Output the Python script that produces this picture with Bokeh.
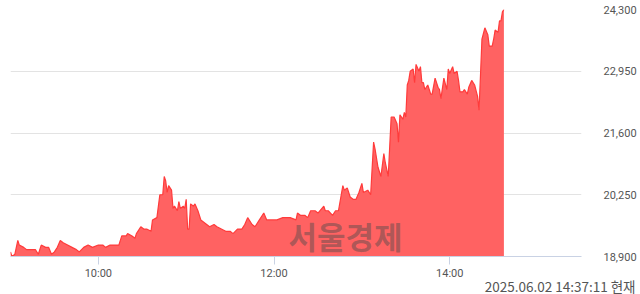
import pandas as pd
from bokeh.plotting import figure
from bokeh.models import FixedTicker, NumeralTickFormatter, DatetimeTickFormatter, Label, ColumnDataSource, Range1d, Title
from bokeh.embed import file_html
from bokeh.resources import INLINE

DATE = "2025-06-02"
times = ["09:00","09:01","09:03","09:05","09:06","09:09","09:11","09:15","09:17","09:19",
         "09:21","09:24","09:26","09:28","09:30","09:32","09:34","09:36","09:39","09:42",
         "09:45","09:47","09:50","09:53","09:56","10:00","10:03","10:05","10:08","10:11",
         "10:14","10:16","10:19","10:20","10:23","10:25","10:26","10:29","10:31","10:33",
         "10:36","10:37","10:40","10:42","10:44","10:45","10:46","10:47","10:48","10:50",
         "10:51","10:52","10:54","10:55","10:56","10:58","10:59","11:00","11:01","11:02",
         "11:03","11:05","11:06","11:08","11:10","11:12","11:14","11:16","11:19","11:21",
         "11:24","11:27","11:30","11:32","11:35","11:38","11:40","11:42","11:45","11:47",
         "11:50","11:53","11:55","11:58","12:02","12:06","12:11","12:15","12:16","12:18",
         "12:21","12:23","12:25","12:28","12:30","12:34","12:35","12:37","12:40","12:42",
         "12:44","12:47","12:48","12:50","12:52","12:54","12:56","12:58","13:00","13:01",
         "13:04","13:06","13:08","13:09","13:11","13:13","13:15","13:16","13:18","13:20",
         "13:22","13:24","13:25","13:26","13:28","13:29","13:30","13:31","13:32","13:33",
         "13:35","13:36","13:37","13:39","13:40","13:41","13:42","13:43","13:45","13:46",
         "13:47","13:48","13:50","13:52","13:53","13:54","13:56","13:58","13:59","14:00",
         "14:02","14:03","14:05","14:06","14:07","14:09","14:10","14:12","14:13","14:15",
         "14:17","14:19","14:20","14:21","14:22","14:24","14:26","14:27","14:29","14:30",
         "14:31","14:33","14:34","14:35","14:36","14:37"]
prices = [19000,18900,18950,19250,19150,19100,19050,19050,19050,18950,
          19150,19100,19100,18950,19000,19100,19250,19200,19150,19100,
          19050,19000,19100,19150,19100,19150,19150,19100,19150,19150,
          19150,19350,19350,19400,19350,19300,19400,19550,19500,19500,
          19450,19700,19750,20250,20250,20650,20550,20300,20450,20350,
          19950,20000,19900,20100,19950,20000,19950,20150,19500,19500,
          20050,20000,20050,19900,19700,19650,19600,19550,19600,19550,
          19500,19450,19450,19400,19500,19500,19600,19750,19600,19550,
          19700,19850,19700,19700,19700,19750,19750,19700,19850,19800,
          19800,19750,19900,19900,19850,20000,19900,19900,19800,19900,
          19900,20450,20350,20400,20200,20150,20150,20300,20500,20300,
          20350,20250,21400,21250,20850,20650,21150,20950,20650,21950,
          21950,21800,21400,22000,21900,22050,21950,22650,22750,22950,
          23000,22700,23100,22950,23050,22700,22700,22550,22650,22550,
          22450,22450,22800,22600,22550,22350,22800,22550,23000,22900,
          23050,22900,22950,22750,22500,22500,22550,22450,22600,22750,
          22650,22400,22100,22850,23650,23900,23750,23500,23500,23650,
          23850,23800,24050,24050,24250,24300]
y_ticks = [18900, 20250, 21600, 22950, 24300]
x_tick_times = ["10:00", "12:00", "14:00"]
x_start, x_end = "09:00", "15:30"
base_price = 18900
stamp = "2025.06.02 14:37:11 현재"
watermark = "서울경제"

def ts(t):
    return pd.Timestamp(f"{DATE} {t}")

df = pd.DataFrame({"t": [ts(t) for t in times], "p": prices})
df["base"] = base_price
src = ColumnDataSource(df)

p = figure(width=640, height=294, x_axis_type="datetime", y_axis_location="right",
           x_range=Range1d(ts(x_start), ts(x_end)), y_range=Range1d(y_ticks[0], y_ticks[-1]),
           output_backend="svg", toolbar_location=None,
           min_border_left=10, min_border_top=9, min_border_right=59, min_border_bottom=38)
p.outline_line_color = None
p.background_fill_color = "white"

p.varea(x="t", y1="base", y2="p", source=src, fill_color="#ff6262", fill_alpha=1.0)
p.line(x="t", y="p", source=src, line_color="#ff3b3b", line_width=1.2)

p.xgrid.visible = False
p.ygrid.grid_line_color = "#e3e3e3"
p.ygrid.grid_line_width = 1
p.ygrid.ticker = FixedTicker(ticks=y_ticks)

ya = p.yaxis[0]
ya.ticker = FixedTicker(ticks=y_ticks)
ya.formatter = NumeralTickFormatter(format="0,0")
ya.axis_line_color = None
ya.major_tick_line_color = None
ya.minor_tick_line_color = None
ya.major_label_standoff = 16
ya.major_label_text_font = "Roboto"
ya.major_label_text_font_size = "11px"
ya.major_label_text_color = "#555555"

xa = p.xaxis[0]
xa.ticker = FixedTicker(ticks=[ts(t).value / 1e6 for t in x_tick_times])
xa.formatter = DatetimeTickFormatter(hours="%H:%M", minutes="%H:%M", hourmin="%H:%M")
xa.axis_line_color = "#c9d2e4"
xa.major_tick_line_color = "#c9d2e4"
xa.major_tick_out = 8
xa.major_tick_in = 0
xa.minor_tick_line_color = None
xa.major_label_standoff = 2
xa.major_label_text_font = "Roboto"
xa.major_label_text_font_size = "11px"
xa.major_label_text_color = "#555555"

p.add_layout(Label(x=335, y=21, x_units="screen", y_units="screen", text=watermark,
                   text_align="center", text_baseline="middle",
                   text_font="Noto Sans CJK KR", text_font_style="bold", text_font_size="31px",
                   text_color="#4a4a4a", text_alpha=0.45))
p.add_layout(Title(text=stamp, align="right", offset=-54, standoff=-14, vertical_align="top",
                   text_font="Noto Sans CJK KR", text_font_size="13.5px",
                   text_font_style="normal", text_color="#555555"), "below")

open("out.html", "w").write(file_html(p, INLINE))
